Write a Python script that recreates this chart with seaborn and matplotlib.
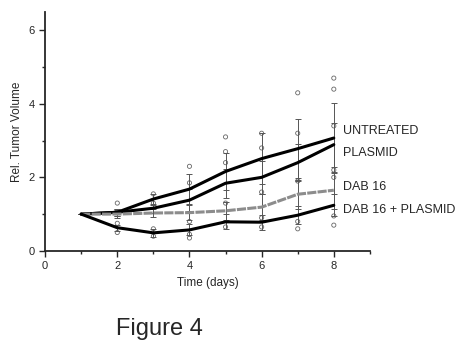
import pandas as pd
import matplotlib.pyplot as plt
import seaborn as sns

days = [1, 2, 3, 4, 5, 6, 7, 8]
untreated = [1.0, 1.05, 1.41, 1.68, 2.16, 2.51, 2.78, 3.07]
plasmid = [1.0, 1.05, 1.16, 1.38, 1.84, 2.0, 2.4, 2.89]
dab16 = [1.0, 1.0, 1.03, 1.04, 1.09, 1.19, 1.54, 1.65]
dab16_plasmid = [1.0, 0.63, 0.49, 0.57, 0.79, 0.78, 0.97, 1.24]

# error bar half-widths
err_untreated = [0, 0.1, 0.15, 0.4, 0.5, 0.7, 0.8, 0.95]
err_plasmid = [0, 0.1, 0.12, 0.3, 0.4, 0.45, 0.5, 0.6]
err_dab16 = [0, 0.1, 0.1, 0.2, 0.25, 0.35, 0.4, 0.5]
err_dab16_plasmid = [0, 0.08, 0.1, 0.15, 0.2, 0.2, 0.25, 0.3]

labels = ["UNTREATED", "PLASMID", "DAB 16", "DAB 16 + PLASMID"]
label_y = [3.27, 2.65, 1.73, 1.11]

# some individual animals (open symbols)
pts_day = [2, 2, 2, 3, 3, 3, 3, 4, 4, 4, 4, 4, 5, 5, 5, 5, 5, 6, 6, 6, 6, 6,
           7, 7, 7, 7, 7, 8, 8, 8, 8, 8, 8, 8]
pts_val = [1.3, 0.75, 0.5, 1.55, 0.6, 0.4, 1.3, 2.3, 0.8, 0.45, 0.35, 1.85,
           3.1, 2.7, 1.3, 0.65, 2.4, 3.2, 1.6, 0.65, 0.9, 2.8,
           4.3, 0.8, 0.6, 1.9, 3.2, 4.7, 4.4, 2.0, 0.7, 0.95, 3.4, 2.2]

df = pd.DataFrame({
    "day": days * 4,
    "volume": untreated + plasmid + dab16 + dab16_plasmid,
    "err": err_untreated + err_plasmid + err_dab16 + err_dab16_plasmid,
    "group": [g for g in labels for _ in days],
})
pts = pd.DataFrame({"day": pts_day, "volume": pts_val})

sns.set_style("ticks")
plt.rcParams["font.family"] = ["Liberation Sans", "DejaVu Sans"]

fig = plt.figure(figsize=(4.7, 3.62), dpi=100)
ax = fig.add_axes([0.096, 0.307, 0.691, 0.66])

colors = {"UNTREATED": "black", "PLASMID": "black", "DAB 16": "#8c8c8c", "DAB 16 + PLASMID": "black"}
styles = {"UNTREATED": "", "PLASMID": "", "DAB 16": (3, 0.4), "DAB 16 + PLASMID": ""}

sns.scatterplot(data=pts, x="day", y="volume", ax=ax, marker="o", s=9,
                facecolor="none", edgecolor="#666666", linewidth=0.6, zorder=2)
for g in labels:
    sub = df[df["group"] == g]
    ax.errorbar(sub["day"], sub["volume"], yerr=sub["err"], fmt="none",
                ecolor="#555555", elinewidth=0.7, capsize=2.5, capthick=0.7, zorder=2)
sns.lineplot(data=df, x="day", y="volume", hue="group", style="group",
             palette=colors, dashes=styles, linewidth=2.2, legend=False, ax=ax, zorder=3)

for g, y in zip(labels, label_y):
    ax.text(8.25, y, g, fontsize=9, va="center", ha="left", clip_on=False)

ax.set_xlim(0, 9)
ax.set_ylim(0, 6.5)
ax.set_xticks([0, 2, 4, 6, 8])
ax.set_xticks([1, 3, 5, 7, 9], minor=True)
ax.set_yticks([0, 2, 4, 6])
ax.set_yticks([1, 3, 5], minor=True)
ax.tick_params(labelsize=8, length=4, width=1)
ax.tick_params(which="minor", length=2.5, width=1)
ax.set_xlabel("Time (days)", fontsize=8.5)
ax.set_ylabel("Rel. Tumor Volume", fontsize=8.5)
sns.despine(ax=ax)
for s in ["left", "bottom"]:
    ax.spines[s].set_linewidth(1.3)

fig.text(0.34, 0.09, "Figure 4", fontsize=17, ha="center", va="center")

fig.savefig("out.png", dpi=100)
